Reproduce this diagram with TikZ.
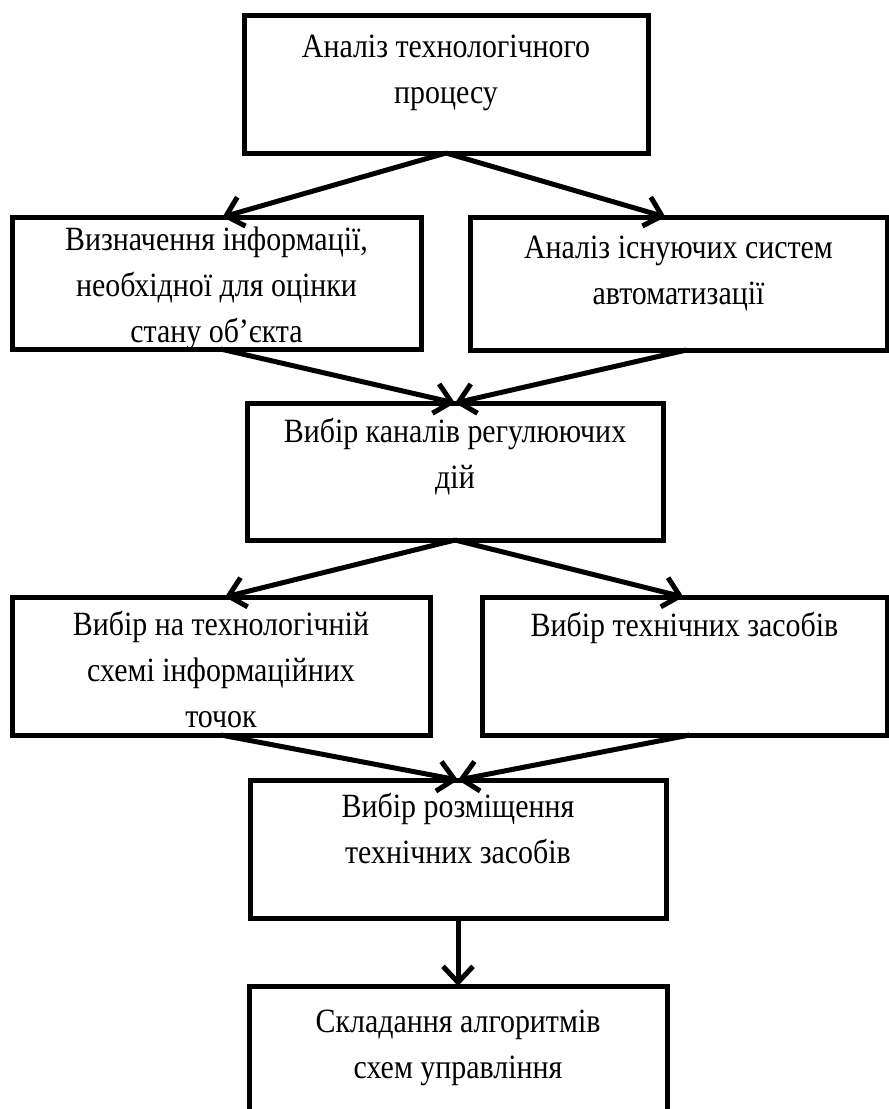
\documentclass[tikz,border=0pt]{standalone}
\usepackage{fontspec}
\setmainfont[FakeStretch=0.88]{Liberation Serif}
\usetikzlibrary{arrows.meta}
\newcommand\mytxt[1]{\parbox[t]{440pt}{\centering\fontsize{34}{46}\selectfont #1}}
\begin{document}
\begin{tikzpicture}[x=1pt,y=-1pt,
  boxst/.style={draw, line width=5pt, inner sep=0pt, outer sep=0pt, line join=miter},
  txt/.style={anchor=base, inner sep=0pt},
  arr/.style={line width=5pt, -{Straight Barb[length=16pt,width=30pt]}}]
\useasboundingbox (0,0) rectangle (889,1109);
\clip (0,0) rectangle (889,1109);
\node[boxst, minimum width=404pt, minimum height=138pt] (b1) at (446,84) {};
\node[boxst, minimum width=409pt, minimum height=132pt] (b2) at (216.5,283) {};
\node[boxst, minimum width=417pt, minimum height=133pt] (b3) at (678.5,283.5) {};
\node[boxst, minimum width=416pt, minimum height=137pt] (b4) at (455,471.5) {};
\node[boxst, minimum width=418pt, minimum height=138pt] (b5) at (221,666) {};
\node[boxst, minimum width=405pt, minimum height=138pt] (b6) at (684.5,666) {};
\node[boxst, minimum width=416pt, minimum height=138pt] (b7) at (458,849) {};
\node[boxst, minimum width=418pt, minimum height=150pt] (b8) at (458,1061) {};

\node[txt] (t1) at (446,57) {\mytxt{Аналіз технологічного\\процесу}};
\node[txt] (t2) at (216.5,250) {\mytxt{Визначення інформації,\\необхідної для оцінки\\стану об’єкта}};
\node[txt] (t3) at (678.5,258) {\mytxt{Аналіз існуючих систем\\автоматизації}};
\node[txt] (t4) at (455,442) {\mytxt{Вибір каналів регулюючих\\дій}};
\node[txt] (t5) at (221,635) {\mytxt{Вибір на технологічній\\схемі інформаційних\\точок}};
\node[txt] (t6) at (684.5,636) {\mytxt{Вибір технічних засобів}};
\node[txt] (t7) at (458,817) {\mytxt{Вибір розміщення\\технічних засобів}};
\node[txt] (t8) at (458,1032) {\mytxt{Складання алгоритмів\\схем управління}};

\draw[arr] (b1.south) -- ([xshift=6pt]b2.north);
\draw[arr] (b1.south) -- ([xshift=-13pt]b3.north);
\draw[arr] ([xshift=4pt]b2.south) -- (b4.north);
\draw[arr] ([xshift=8pt]b3.south) -- (b4.north);
\draw[arr] (b4.south) -- ([xshift=4pt]b5.north);
\draw[arr] (b4.south) -- ([xshift=-1pt]b6.north);
\draw[arr] (b5.south) -- (b7.north);
\draw[arr] ([xshift=5pt]b6.south) -- (b7.north);
\draw[arr] (b7.south) -- (b8.north);
\end{tikzpicture}
\end{document}
